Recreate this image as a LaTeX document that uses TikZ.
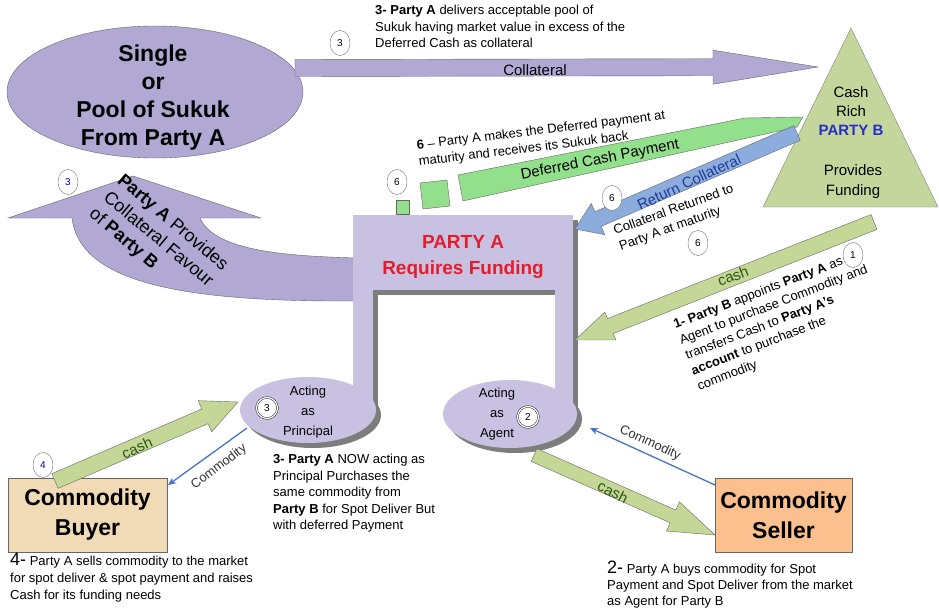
\documentclass[tikz,border=0pt]{standalone}
\usepackage{fontspec}
\setmainfont{Liberation Sans}
\usetikzlibrary{shapes.geometric,calc,arrows.meta}

% block arrow between two named points: [style]{from}{to}{shaft half width}{head half width}{head length}
\newcommand{\blockarrow}[6][]{%
  \path let \p1=($(#3)-(#2)$), \n1={atan2(\y1,\x1)}, \n2={veclen(\x1,\y1)} in
    \pgfextra{\xdef\barrowangle{\n1}\xdef\barrowlength{\n2}};
  \begin{scope}[shift={(#2)}, rotate=\barrowangle]
    \filldraw[#1] (0,#4) -- ({\barrowlength-#6},#4) -- ({\barrowlength-#6},#5)
      -- (\barrowlength,0) -- ({\barrowlength-#6},-#5) -- ({\barrowlength-#6},-#4)
      -- (0,-#4) -- cycle;
  \end{scope}}

\begin{document}
\begin{tikzpicture}[x=1pt, y=-1pt,
	stepmark/.style={ellipse, draw=black!55, fill=white, inner sep=0pt, minimum width=20pt, minimum height=25pt, font=\fontsize{10}{10}\selectfont},
	ringmark/.style={circle, draw=black, fill=white, double=white, double distance=1.3pt, inner sep=0pt, minimum size=21pt, font=\fontsize{10}{10}\selectfont},
	note/.style={anchor=north west, align=left, inner sep=0pt, font=\fontsize{13}{16.5}\selectfont},
	arrowtext/.style={font=\fontsize{15}{15}\selectfont},
	cashtext/.style={font=\fontsize{15}{15}\selectfont, text=cashtextcolor},
	goodsarrow/.style={draw=goodscolor, line width=1.3pt, -{Stealth[length=8pt,width=7pt]}},
	goodstext/.style={font=\fontsize{13}{13}\selectfont, text=black!80},
	boxtext/.style={draw=black!60, font=\fontsize{23}{30}\selectfont\bfseries, align=center}]
		
		% Define colors
		\definecolor{sukukcolor}{RGB}{178,168,212}
		\definecolor{partyAcolor}{RGB}{200,193,226}
		\definecolor{shadowcolor}{RGB}{125,125,125}
		\definecolor{partyBcolor}{RGB}{196,214,155}
		\definecolor{cashcolor}{RGB}{196,215,150}
		\definecolor{cashtextcolor}{RGB}{45,85,20}
		\definecolor{defcolor}{RGB}{146,224,140}
		\definecolor{retcolor}{RGB}{141,172,222}
		\definecolor{rettextcolor}{RGB}{30,60,150}
		\definecolor{goodscolor}{RGB}{70,115,195}
		\definecolor{buyercolor}{RGB}{241,218,182}
		\definecolor{sellercolor}{RGB}{251,192,142}
		\definecolor{partyAred}{RGB}{225,30,45}
		\definecolor{partyBblue}{RGB}{40,45,200}
		
		\useasboundingbox (0,0) rectangle (939,610);
		
		% Draw the Sukuk ellipse
		\filldraw[fill=sukukcolor, draw=black!60] (155,92) ellipse (148 and 66);
		\node[font=\fontsize{23}{28}\selectfont\bfseries, align=center] (sukuk) at (153,98) {Single\\or\\Pool of Sukuk\\From Party A};
		
		% Draw the Party B triangle
		\filldraw[fill=partyBcolor, draw=black!50] (763,207) -- (851,28) -- (938,207) -- cycle;
		\node[font=\fontsize{15}{19}\selectfont, align=center] (partyB) at (851,111) {Cash\\Rich\\\textcolor{partyBblue}{\textbf{PARTY B}}};
		\node[font=\fontsize{15}{20}\selectfont, align=center] (funding) at (853,182) {Provides\\Funding};
		
		% Collateral arrow
		\coordinate (coltail) at (295,68);
		\coordinate (colhead) at (818,67);
		\blockarrow[fill=sukukcolor, draw=black!60]{coltail}{colhead}{8.5}{17}{105}
		\node[arrowtext] (collateral) at (535,70) {Collateral};
		\node[stepmark] (mark3top) at (340,43) {3};
		\node[note] (step3top) at (375,5) {\textbf{3- Party A} delivers acceptable pool of\\Sukuk having market value in excess of the\\Deferred Cash as collateral};
		
		% Curved arrow: collateral in favour of Party B
		\filldraw[fill=sukukcolor, draw=black!60] (357,258) .. controls (290,256) and (215,252) .. (200,218)
			-- (261,218) -- (133,176) -- (8,218) -- (72,218)
			.. controls (80,285) and (190,302) .. (357,301) -- cycle;
		\node[font=\fontsize{18}{22}\selectfont, anchor=north west, align=left, inner sep=0pt, rotate=-40] (favour) at (125,172) {\textbf{Party A} Provides\\Collateral Favour\\of \textbf{Party B}};
		\node[stepmark, text=blue!70!black] (mark3left) at (68,182) {3};
		
		% Party A note shape with its shadow
		\foreach \offset/\fillcol in {5/shadowcolor, 0/partyAcolor} {
			\begin{scope}[shift={(\offset,\offset)}]
				\fill[\fillcol] (353,215) rectangle (573,290);
				\fill[\fillcol] (353,215) rectangle (373,418);
				\fill[\fillcol] (555,215) rectangle (573,414);
				\fill[\fillcol] (308,410) ellipse (68 and 33);
				\fill[\fillcol] (510,414) ellipse (67 and 34);
			\end{scope}
		}
		\node[font=\fontsize{19}{26}\selectfont\bfseries, text=partyAred, align=center] (partyA) at (463,257) {PARTY A\\Requires Funding};
		\node[font=\fontsize{13}{20}\selectfont, align=center] (principal) at (308,412) {Acting\\as\\Principal};
		\node[ringmark] (mark3mid) at (267,408) {3};
		\node[font=\fontsize{13}{20}\selectfont, align=center] (agent) at (497,414) {Acting\\as\\Agent};
		\node[ringmark] (mark2) at (528,417) {2};
		
		% Deferred cash payment
		\filldraw[fill=defcolor, draw=black!60] (396,200) rectangle (409,214);
		\filldraw[fill=defcolor, draw=black!60] (420,183) -- (447,180) -- (450,206) -- (423,209) -- cycle;
		\filldraw[fill=defcolor, draw=black!60] (458,175) -- (745,118) -- (803,117) -- (797,127) -- (463,201) -- cycle;
		\node[arrowtext, rotate=11] (deferred) at (600,160) {Deferred Cash Payment};
		\node[stepmark] (mark6a) at (397,182) {6};
		\node[note, rotate=7] (step6) at (416,140) {\textbf{6} – Party A makes the Deferred payment at\\maturity and receives its Sukuk back};
		
		% Return collateral
		\coordinate (rettail) at (797,133);
		\coordinate (rethead) at (575,229);
		\blockarrow[fill=retcolor, draw=black!60]{rettail}{rethead}{8}{17}{25}
		\node[arrowtext, text=rettextcolor, rotate=25] (retlabel) at (689,182) {Return Collateral};
		\node[stepmark] (mark6b) at (612,198) {6};
		\node[note, rotate=20] (returned) at (612,226) {Collateral Returned to\\Party A at maturity};
		\node[stepmark] (mark6c) at (698,243) {6};
		
		% Cash from Party B to Party A
		\coordinate (cash1tail) at (874,222);
		\coordinate (cash1head) at (575,340);
		\blockarrow[fill=cashcolor, draw=black!60]{cash1tail}{cash1head}{8}{15}{38}
		\node[cashtext, rotate=21] (cash1) at (733,276) {cash};
		\node[stepmark] (mark1) at (853,255) {1};
		\node[note, rotate=21] (step1) at (672,320) {\textbf{1- Party B} appoints \textbf{Party A} as\\Agent to purchase Commodity and\\transfers Cash to \textbf{Party A's}\\\textbf{account} to purchase the\\commodity};
		
		% Commodity buyer
		\node[boxtext, fill=buyercolor, minimum width=159pt, minimum height=74pt] (buyer) at (87.5,515) {Commodity\\Buyer};
		\coordinate (cash4tail) at (55,481);
		\coordinate (cash4head) at (238,402);
		\blockarrow[fill=cashcolor, draw=black!60]{cash4tail}{cash4head}{8}{17}{36}
		\node[cashtext, rotate=24] (cash4) at (137,448) {cash};
		\node[stepmark, text=blue!70!black] (mark4) at (43,465) {4};
		\coordinate (princout) at (247,428);
		\coordinate (buyerin) at (168,485);
		\draw[goodsarrow] (princout) -- (buyerin);
		\node[goodstext, rotate=37] (goods4) at (219,467) {Commodity};
		\node[note] (step3) at (273,454) {\textbf{3- Party A} NOW acting as\\Principal Purchases the\\same commodity from\\\textbf{Party B} for Spot Deliver But\\with deferred Payment};
		\node[note, font=\fontsize{13}{17}\selectfont] (step4) at (10,553) {{\fontsize{18}{17}\selectfont 4-} Party A sells commodity to the market\\for spot deliver \& spot payment and raises\\Cash for its funding needs};
		
		% Commodity seller
		\node[boxtext, fill=sellercolor, minimum width=137pt, minimum height=74pt] (seller) at (783.5,515) {Commodity\\Seller};
		\coordinate (cash2tail) at (534,455);
		\coordinate (cash2head) at (715,535);
		\blockarrow[fill=cashcolor, draw=black!60]{cash2tail}{cash2head}{7}{16}{46}
		\node[cashtext, rotate=-26] (cash2) at (613,492) {cash};
		\coordinate (sellerout) at (715,485);
		\coordinate (agentin) at (590,428);
		\draw[goodsarrow] (sellerout) -- (agentin);
		\node[goodstext, rotate=-25] (goods2) at (650,443) {Commodity};
		\node[note, font=\fontsize{13}{16}\selectfont] (step2) at (607,561) {{\fontsize{18}{16}\selectfont 2-} Party A buys commodity for Spot\\Payment and Spot Deliver from the market\\as Agent for Party B};
	\end{tikzpicture}
\end{document}
